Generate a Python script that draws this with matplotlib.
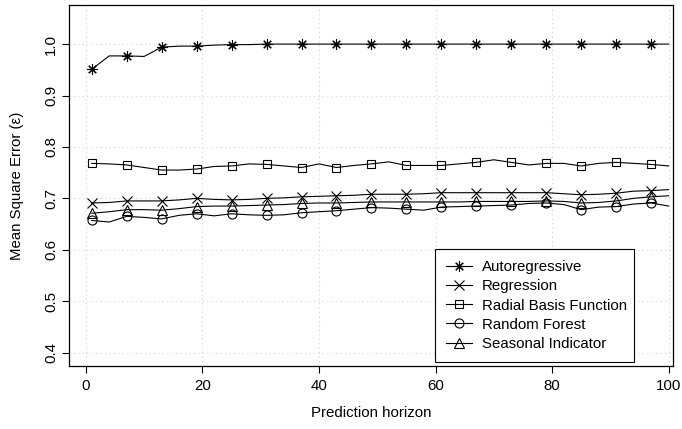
import numpy as np
import matplotlib
matplotlib.use("Agg")
import matplotlib.pyplot as plt

plt.rcParams['font.family'] = ['Liberation Sans', 'DejaVu Sans']

# horizon values at which the curves are sampled (markers on every second one)
horizon = list(range(1, 101, 3))

autoregressive = [0.951, 0.977, 0.977, 0.976, 0.994, 0.996, 0.996, 0.998, 0.999, 0.999,
                  1.0, 1.0, 1.0, 1.0, 1.0, 1.0, 1.0, 1.0, 1.0, 1.0,
                  1.0, 1.0, 1.0, 1.0, 1.0, 1.0, 1.0, 1.0, 1.0, 1.0,
                  1.0, 1.0, 1.0, 1.0]
regression = [0.691, 0.692, 0.695, 0.695, 0.695, 0.697, 0.700, 0.698, 0.697, 0.698,
              0.700, 0.701, 0.703, 0.704, 0.705, 0.706, 0.708, 0.708, 0.708, 0.709,
              0.711, 0.711, 0.711, 0.711, 0.711, 0.711, 0.711, 0.709, 0.707, 0.708,
              0.710, 0.714, 0.715, 0.717]
rbf = [0.768, 0.767, 0.765, 0.760, 0.755, 0.755, 0.757, 0.762, 0.763, 0.767,
       0.766, 0.763, 0.760, 0.767, 0.760, 0.764, 0.767, 0.771, 0.764, 0.764,
       0.764, 0.767, 0.770, 0.775, 0.770, 0.765, 0.768, 0.768, 0.763, 0.768,
       0.770, 0.768, 0.766, 0.763]
random_forest = [0.657, 0.654, 0.665, 0.663, 0.660, 0.667, 0.670, 0.666, 0.670, 0.668,
                 0.667, 0.668, 0.672, 0.674, 0.676, 0.679, 0.682, 0.681, 0.679, 0.677,
                 0.683, 0.684, 0.685, 0.686, 0.687, 0.690, 0.691, 0.688, 0.678, 0.683,
                 0.684, 0.689, 0.691, 0.685]
seasonal = [0.671, 0.674, 0.678, 0.678, 0.677, 0.680, 0.684, 0.685, 0.685, 0.686,
            0.687, 0.688, 0.690, 0.691, 0.691, 0.692, 0.693, 0.693, 0.693, 0.693,
            0.693, 0.693, 0.694, 0.694, 0.694, 0.694, 0.695, 0.694, 0.691, 0.692,
            0.695, 0.700, 0.703, 0.705]

labels = ["Autoregressive", "Regression", "Radial Basis Function",
          "Random Forest", "Seasonal Indicator"]
x_ticks = [0, 20, 40, 60, 80, 100]
y_ticks = [0.4, 0.5, 0.6, 0.7, 0.8, 0.9, 1.0]

series = [autoregressive, regression, rbf, random_forest, seasonal]
markers = [(8, 2, 0), "x", "s", "o", "^"]
msizes = [7.5, 6.5, 6.3, 6.5, 7.0]

fig = plt.figure(figsize=(6.82, 4.29), dpi=100)
ax = fig.add_axes([69/682, 1 - 366/429, (672.7 - 69)/682, (366 - 5)/429])

for vals, lab, mk, ms in zip(series, labels, markers, msizes):
    ax.plot(horizon, vals, color="black", lw=0.8, marker=mk, ms=ms,
            markevery=2, mfc="none", mec="black", mew=0.8, label=lab)

ax.set_xlim(-2.9, 100.7)
ax.set_ylim(0.374, 1.076)
ax.set_xticks(x_ticks)
ax.set_yticks(y_ticks)
ax.set_xticklabels([str(t) for t in x_ticks])
ax.set_yticklabels(["%.1f" % t for t in y_ticks], rotation=90, va="center")

ax.grid(True, color="#d3d3d3", linestyle=(0, (1, 3)), lw=0.8)
ax.set_axisbelow(True)
for s in ax.spines.values():
    s.set_linewidth(0.9)
ax.tick_params(direction="out", length=5, width=0.8, labelsize=10.8, pad=4)
ax.tick_params(axis="y", pad=3)

ax.set_xlabel("Prediction horizon", fontsize=10.8, labelpad=10)
ax.set_ylabel("Mean Square Error (\u03b5)", fontsize=10.8, labelpad=14)

leg = ax.legend(loc="lower left", bbox_to_anchor=(0.606, 0.011, 0.33, 0.31),
                mode="expand", fontsize=10.8, frameon=True, fancybox=False,
                edgecolor="black", framealpha=1, borderpad=0.75,
                labelspacing=0.34, handlelength=1.7, handletextpad=0.7,
                borderaxespad=0)
leg.get_frame().set_linewidth(0.8)

fig.savefig("out.png", dpi=100)
